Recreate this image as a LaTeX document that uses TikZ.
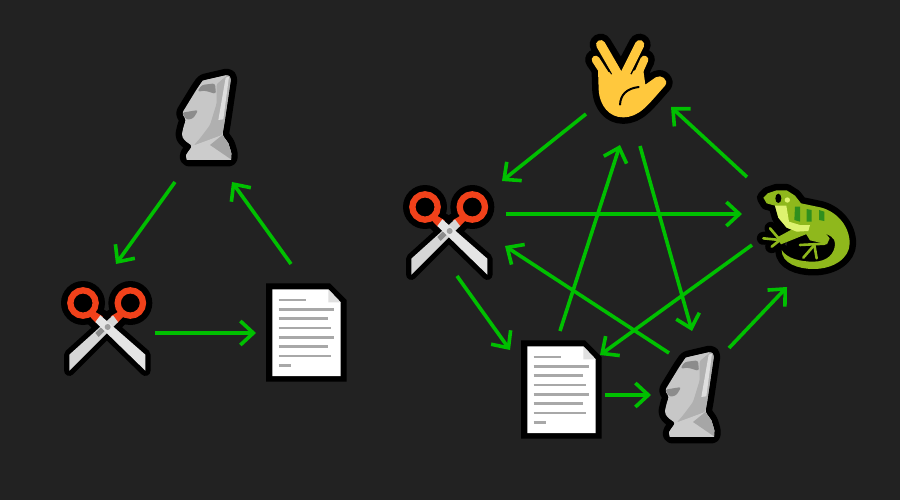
\documentclass[tikz,border=0pt]{standalone}
\usetikzlibrary{arrows.meta}
\definecolor{bgc}{HTML}{222222}
\definecolor{arrowgreen}{HTML}{00C000}
\definecolor{handc}{HTML}{FFC83D}
\definecolor{lizc}{HTML}{8FB81C}
\definecolor{lizl}{HTML}{DDF26F}
\definecolor{lizd}{HTML}{2F8F1E}
\definecolor{orangec}{HTML}{F1411A}
\def\bladeR{(150,122)--(285,240)--(285,288)--(135,142)--cycle}
\def\bladeL{(188,122)--(57,240)--(57,288)--(203,142)--cycle}
\def\handleL{(118,125)--(132,110)--(157,125)--(137,145)--cycle}
\def\handleR{(220,125)--(206,110)--(181,125)--(201,145)--cycle}
\def\moaiShape{(128,62)--(205,44)--(213,55)--(193,190)--(187,225)--(205,250)--(214,280)--(213,300)--(80,300)--(78,285)--(97,258)--(72,240)--(65,225)--(72,195)--(78,180)--(66,160)--(110,88)--cycle}
\def\palmShape{(70,135)--(72,195) .. controls (75,245) and (105,278) .. (145,278) .. controls (195,278) and (220,240) .. (272,182) .. controls (282,165) and (260,148) .. (243,158) -- (212,180) -- (205,130) -- (135,150) -- cycle}
\def\lizBody{(55,68)--(68,55)--(95,46)--(125,46)--(150,62)--(168,85)--(230,98) .. controls (278,112) and (314,155) .. (314,205) .. controls (314,250) and (265,282) .. (205,282) .. controls (160,282) and (110,265) .. (110,225) .. controls (125,250) and (165,260) .. (205,260) .. controls (248,260) and (270,235) .. (270,205) .. controls (270,190) and (255,178) .. (225,172)--(190,168)--(155,170)--(125,158)--(100,128)--(90,92)--(65,85)--cycle}
\def\lizLeg{(185,150)--(240,172)--(254,190)--(246,208)--(195,196)--(182,175)--cycle}
\tikzset{
  emoji/.style={minimum size=60pt,inner sep=0pt,draw=none},
  arr/.style={draw=arrowgreen,line width=3.6pt,-{Straight Barb[length=13pt,width=24pt,line width=3.6pt]}},
  outl/.style={draw=black,fill=black,line width=13pt,line join=round,line cap=round},
  bladeoutl/.style={draw=black,fill=black,line width=10.5pt,line join=round,line cap=round},
  toe/.style={line width=2.6pt,line cap=round,draw=lizc},
  txtl/.style={line width=2.6pt,draw=black!34},
  scissorsicon/.pic={
    \begin{scope}[x=0.3333pt,y=-0.3333pt,shift={(-170,-157)}]
      \draw[bladeoutl] \bladeR; \draw[bladeoutl] \bladeL;
      \draw[outl] \handleL; \draw[outl] \handleR;
      \fill[black] (98,85) circle[radius=66]; \fill[black] (240,85) circle[radius=66];
      \draw[orangec,line width=6.3pt] (98,85) circle[radius=38];
      \draw[orangec,line width=6.3pt] (240,85) circle[radius=38];
      \fill[orangec] \handleL; \fill[orangec] \handleR;
      \fill[black!16] \bladeL;
      \fill[black!45] (175,157)--(145,187)--(135,175)--(160,150)--cycle;
      \fill[black!10] \bladeR;
      \fill[black!38] (172,157) circle[radius=9];
    \end{scope}},
  papericon/.pic={
    \begin{scope}[shift={(-306,-332.5)}]
      \fill[black] (266,283.3)--(330,283.3)--(346.7,300)--(346.7,381.7)--(266,381.7)--cycle;
      \fill[white] (272.3,289.3)--(328.3,289.3)--(340.7,302.3)--(340.7,376)--(272.3,376)--cycle;
      \fill[black!12] (328.3,289.3)--(340.7,302.3)--(328.3,302.3)--cycle;
      \draw[txtl] (278.7,300)--(306,300);
      \draw[txtl] (278.7,309.3)--(334,309.3);
      \draw[txtl] (278.7,318.7)--(327.7,318.7);
      \draw[txtl] (278.7,328)--(331,328);
      \draw[txtl] (278.7,337.3)--(334,337.3);
      \draw[txtl] (278.7,346.7)--(327.7,346.7);
      \draw[txtl] (278.7,356)--(331,356);
      \draw[txtl] (278.7,365.3)--(290.7,365.3);
    \end{scope}},
  moaiicon/.pic={
    \begin{scope}[x=0.3333pt,y=-0.3333pt,shift={(-141,-171)},rounded corners=2.5pt]
      \draw[outl] \moaiShape;
      \fill[black!22] \moaiShape;
      \fill[black!31] (170,70)--(205,44)--(213,55)--(193,190)--(187,225)--(100,258)--(120,235)--(150,195)--(170,130)--cycle;
      \fill[black!13,rounded corners=0pt] (197,53)--(207,50)--(190,178)--(175,180)--cycle;
      \fill[black!22,rounded corners=0pt] (128,62)--(200,46)--(170,72)--(118,80)--cycle;
      \fill[black!45] (112,95)--(125,75)--(165,70)--(168,102)--(135,92)--cycle;
      \fill[black!45] (66,158)--(115,150)--(100,175)--(80,180)--cycle;
      \fill[black!20,rounded corners=0pt] (97,258)--(187,225)--(205,250)--(214,280)--(213,300)--(80,300)--(78,285)--cycle;
      \fill[black!35,rounded corners=0pt] (150,255)--(187,225)--(205,250)--(214,280)--(213,298)--cycle;
    \end{scope}},
  handicon/.pic={
    \begin{scope}[x=0.3333pt,y=-0.3333pt,shift={(-145,-160)}]
      \draw[black,line width=21pt,line cap=round] (63,105)--(105,165);
      \draw[black,line width=21pt,line cap=round] (209,105)--(180,165);
      \draw[black,line width=22pt,line cap=round] (78,60)--(130,145);
      \draw[black,line width=22pt,line cap=round] (195,60)--(150,145);
      \draw[outl] \palmShape;
      \draw[handc,line width=8pt,line cap=round] (63,105)--(105,170);
      \draw[handc,line width=8pt,line cap=round] (209,105)--(180,170);
      \fill[handc] \palmShape;
      \draw[black,line width=2pt] (92,112)--(112,148);
      \draw[black,line width=2pt] (186,112)--(168,148);
      \draw[handc,line width=9.3pt,line cap=round] (78,60)--(130,150);
      \draw[handc,line width=9.3pt,line cap=round] (195,60)--(150,150);
      \draw[black,line width=2pt,line cap=round] (136,240) .. controls (138,210) and (155,192) .. (192,187);
    \end{scope}},
  lizardicon/.pic={
    \begin{scope}[x=0.3333pt,y=-0.3333pt,shift={(-180,-165)}]
      \draw[outl] \lizBody;
      \draw[outl] (120,180)--(55,190);
      \draw[outl] (78,160)--(100,190);
      \draw[outl] (80,215)--(105,195);
      \fill[black] (130,170)--(272,160)--(272,255)--(120,250)--cycle;
      \fill[lizc] \lizBody;
      \fill[lizc] \lizLeg;
      \fill[lizc] (165,150)--(190,175)--(108,208)--(95,188)--cycle;
      \draw[toe] (55,190)--(105,195);
      \draw[toe] (75,160)--(105,195);
      \draw[toe] (80,215)--(105,195);
      \draw[toe] (165,210)--(240,206);
      \draw[toe] (175,248)--(208,210);
      \draw[toe] (215,250)--(208,210);
      \fill[lizl] (90,92)--(124,92)--(132,140)--(165,150)--(195,150)--(190,168)--(155,170)--(125,158)--(100,128)--cycle;
      \fill[lizd] (150,95)--(165,95)--(165,140)--(148,135)--cycle;
      \fill[lizd] (185,102)--(200,105)--(200,140)--(185,140)--cycle;
      \fill[lizd] (222,105)--(238,110)--(238,138)--(222,135)--cycle;
      \fill[black] (100,70) ellipse[x radius=9,y radius=14];
      \fill[lizl] (127,75) circle[radius=8];
    \end{scope}}
}
\begin{document}
\begin{tikzpicture}[x=1pt,y=-1pt]
\useasboundingbox[fill=bgc] (0,0) rectangle (900,500);
% left triangle
\node[emoji] (moaiA) at (207,117) {};
\node[emoji] (scisA) at (107,327) {};
\node[emoji] (paperA) at (306,332.5) {};
% right pentagon
\node[emoji] (hand) at (623,78) {};
\node[emoji] (scisB) at (449,231) {};
\node[emoji] (lizard) at (805,230) {};
\node[emoji] (paperB) at (561,389.5) {};
\node[emoji] (moaiB) at (690,394) {};
\pic at (moaiA) {moaiicon};
\pic at (scisA) {scissorsicon};
\pic at (paperA) {papericon};
\pic at (hand) {handicon};
\pic at (scisB) {scissorsicon};
\pic at (lizard) {lizardicon};
\pic at (paperB) {papericon};
\pic at (moaiB) {moaiicon};
\draw[arr] ([shift={(-32,65)}]moaiA.center) -- ([shift={(9,-63)}]scisA.center);
\draw[arr] ([shift={(48,6)}]scisA.center) -- ([shift={(-50,0.5)}]paperA.center);
\draw[arr] ([shift={(-15,-68.5)}]paperA.center) -- ([shift={(25,65)}]moaiA.center);
\draw[arr] ([shift={(-37,36)}]hand.center) -- ([shift={(53,-50)}]scisB.center);
\draw[arr] ([shift={(57,-17)}]scisB.center) -- ([shift={(-63,-16)}]lizard.center);
\draw[arr] ([shift={(8,45)}]scisB.center) -- ([shift={(-51,-39.5)}]paperB.center);
\draw[arr] ([shift={(-1,-58.5)}]paperB.center) -- ([shift={(-3,67)}]hand.center);
\draw[arr] ([shift={(17,68)}]hand.center) -- ([shift={(2,-63)}]moaiB.center);
\draw[arr] ([shift={(44,5.5)}]paperB.center) -- ([shift={(-39,1)}]moaiB.center);
\draw[arr] ([shift={(39,-46)}]moaiB.center) -- ([shift={(-18,57)}]lizard.center);
\draw[arr] ([shift={(-53,15)}]lizard.center) -- ([shift={(39,-34.5)}]paperB.center);
\draw[arr] ([shift={(-21,-41)}]moaiB.center) -- ([shift={(56,15)}]scisB.center);
\draw[arr] ([shift={(-58,-53)}]lizard.center) -- ([shift={(48,29)}]hand.center);
\end{tikzpicture}
\end{document}
